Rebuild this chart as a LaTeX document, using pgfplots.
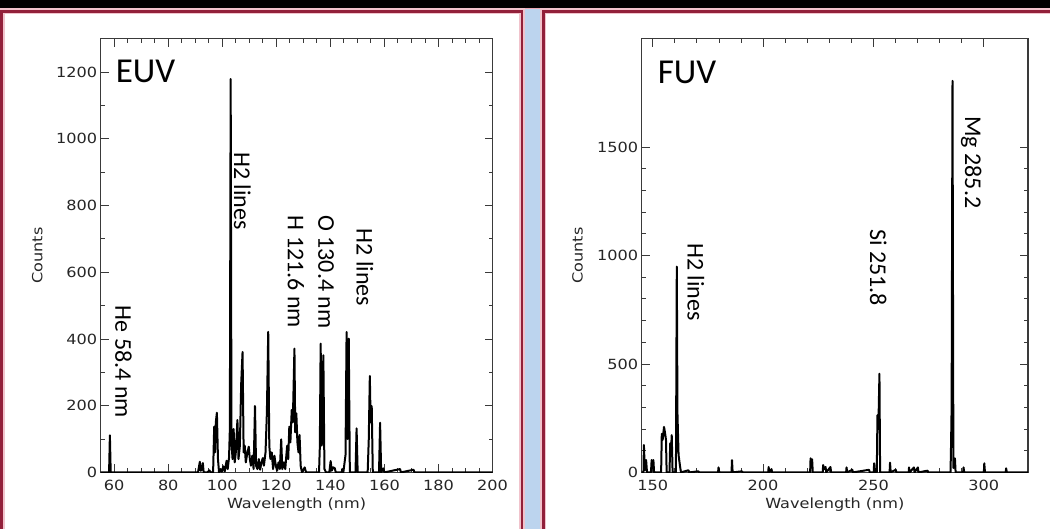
\documentclass[border=0pt]{standalone}
\usepackage{pgfplots}
\pgfplotsset{compat=1.18}
\usepackage{pgfplotstable}
\usepackage{fontspec}
\setmainfont{DejaVu Sans}
\newfontfamily\tickf[FakeStretch=1.15]{DejaVu Sans}
\newfontfamily\annf{Carlito}
\definecolor{panelred}{HTML}{92203A}
\definecolor{glow}{HTML}{EBA9B6}
\definecolor{stripblue}{HTML}{BCD4EE}
\definecolor{axgray}{HTML}{3A3A3A}

\pgfplotstableread{
x y
55 0
58.1 0
58.4 111
58.7 0
91.0 0
91.7 32
92.0 5
92.4 8
92.8 28
93.1 0
94.5 0
95.2 6
95.8 0
96.6 0
97.0 137
97.3 60
97.6 150
98.0 179
98.4 40
98.8 0
99.4 10
99.8 2
100.4 18
100.9 3
101.6 35
102.0 10
102.5 45
102.8 130
103.1 1179
103.4 90
103.8 40
104.2 130
104.6 30
105.0 60
105.6 157
106.0 40
106.5 80
107.0 267
107.5 361
107.9 60
108.3 80
108.7 30
109.3 60
109.8 77
110.2 40
110.6 20
111.1 50
111.6 10
112.1 199
112.5 20
113.0 10
113.5 40
114.0 8
114.5 30
115.0 43
115.4 20
116.0 60
116.5 178
117.0 421
117.4 80
117.8 40
118.3 60
118.8 10
119.3 50
119.8 20
120.3 5
120.8 30
121.3 10
121.8 99
122.2 10
122.8 30
123.3 10
124.0 80
124.4 40
124.8 137
125.2 90
125.7 187
126.1 150
126.7 371
127.0 120
127.4 177
127.8 90
128.2 60
128.6 112
129.0 20
129.5 0
130.5 15
131.0 0
135.8 0
136.1 77
136.4 386
136.8 80
137.4 351
137.8 10
138.4 0
139.6 0
140.1 34
140.5 5
141.0 15
141.6 13
142.0 0
144.2 0
144.4 10
144.8 0
145.6 52
146.0 421
146.4 100
146.8 401
147.2 0
149.3 0
149.7 132
150.1 0
153.8 0
154.2 97
154.6 289
154.9 150
155.3 199
155.7 0
158.0 0
158.4 149
158.8 0
159.6 12
160.0 0
165.8 10
166.1 0
170.8 8
171.1 0
200 0
}\euv

\pgfplotstableread{
x y
145 0
145.8 0
146.0 126
146.4 10
147.0 57
147.4 0
149.2 0
149.5 57
149.9 20
150.3 57
150.6 0
153.8 0
154.1 178
154.5 150
155.1 210
155.6 180
156.0 150
156.3 0
157.6 0
157.9 134
158.3 100
158.6 172
159.0 0
160.5 0
160.9 949
161.2 272
161.7 80
162.4 26
162.8 0
166.2 10
166.5 0
170.7 5
171.0 0
179.6 0
179.8 23
180.1 0
185.7 0
185.9 57
186.2 0
190.4 5
190.7 0
202.3 0
202.5 25
202.8 0
203.8 15
204.1 0
221.3 0
221.5 65
221.9 40
222.2 60
222.5 0
227.0 0
227.2 34
227.6 15
228.3 25
228.6 0
230.5 25
230.8 0
237.6 0
237.8 23
238.1 0
240.4 12
240.7 0
248.0 12
248.3 0
250.1 0
250.3 42
250.6 0
251.5 0
251.8 264
252.2 200
252.7 455
253.0 0
257.3 0
257.5 45
257.8 0
260.1 12
260.4 0
266.0 0
266.1 23
266.4 0
268.3 23
268.6 0
270.1 23
270.4 0
274.5 8
274.8 0
284.9 0
285.1 103
285.4 300
285.8 1806
286.2 20
286.9 65
287.2 0
290.6 0
290.8 23
291.1 0
300.0 0
300.2 42
300.5 0
309.9 0
310.1 19
310.4 0
320 0
}\fuv

\pgfplotsset{
  idlstyle/.style={
    scale only axis,
    axis line style={line width=1.1pt, color=axgray},
    tick style={line width=0.9pt, color=axgray},
    major tick length=8pt,
    minor tick length=4pt,
    tick align=inside,
    /pgf/number format/assume math mode=true,
    /pgf/number format/1000 sep={},
    tick label style={font=\tickf\fontsize{14}{14}\selectfont, text=black!85},
    xticklabel style={yshift=-4pt},
    label style={font=\tickf\fontsize{14}{14}\selectfont, text=black!85},
    ymin=0,
  },
}

\begin{document}
\begin{tikzpicture}[x=1pt,y=1pt]
\useasboundingbox (0,0) rectangle (1050,528);
\fill[glow] (0,0) rectangle (1050,520);
\fill[black] (0,519.5) rectangle (1050,528);
% left panel
\fill[white] (3,-5) rectangle (521,515);
\draw[glow!70!white, line width=6] (1.5,-5) -- (1.5,516.5) -- (522,516.5) -- (522,-5);
\draw[panelred, line width=2.8] (1.5,-5) -- (1.5,516.5) -- (522,516.5) -- (522,-5);
% blue strip
\fill[stripblue] (524.5,-5) rectangle (541,519);
% right panel
\fill[white] (545,-5) rectangle (1055,515);
\draw[glow!70!white, line width=6] (543.2,-5) -- (543.2,516.5) -- (1055,516.5);
\draw[panelred, line width=2.8] (543.2,-5) -- (543.2,516.5) -- (1055,516.5);

\begin{axis}[idlstyle,
  at={(100.7pt,55.6pt)}, anchor=south west,
  width=391.8pt, height=433.7pt,
  xmin=55, xmax=200, ymax=1300,
  xtick={60,80,...,200}, minor x tick num=3,
  ytick={0,200,...,1200}, minor y tick num=1,
  xlabel={Wavelength (nm)}, ylabel={Counts},
  xlabel style={at={(axis description cs:0.5,-0.075)}, anchor=center},
  ylabel style={at={(axis description cs:-0.162,0.5)}, anchor=center},
]
\addplot[black, line width=2pt, line join=round] table[x=x,y=y] {\euv};
\node[font=\annf\fontsize{35}{35}\selectfont, anchor=center] at (axis cs:71.6,1203) {EUV};
\node[font=\annf\fontsize{24}{24}\selectfont, rotate=-90, anchor=center] at (axis cs:63.4,331) {He 58.4 nm};
\node[font=\annf\fontsize{24}{24}\selectfont, rotate=-90, anchor=center] at (axis cs:107.4,843) {H2 lines};
\node[font=\annf\fontsize{24}{24}\selectfont, rotate=-90, anchor=center] at (axis cs:127.2,601) {H 121.6 nm};
\node[font=\annf\fontsize{24}{24}\selectfont, rotate=-90, anchor=center] at (axis cs:138.4,601) {O 130.4 nm};
\node[font=\annf\fontsize{24}{24}\selectfont, rotate=-90, anchor=center] at (axis cs:152.8,614) {H2 lines};
\end{axis}

\begin{axis}[idlstyle,
  at={(641.7pt,55.6pt)}, anchor=south west,
  width=386.3pt, height=433.7pt,
  xmin=145, xmax=320, ymax=2000,
  xtick={150,200,250,300}, minor x tick num=4,
  ytick={0,500,1000,1500}, minor y tick num=4,
  xlabel={Wavelength (nm)}, ylabel={Counts},
  xlabel style={at={(axis description cs:0.5,-0.075)}, anchor=center},
  ylabel style={at={(axis description cs:-0.166,0.5)}, anchor=center},
]
\addplot[black, line width=2pt, line join=round] table[x=x,y=y] {\fuv};
\node[font=\annf\fontsize{35}{35}\selectfont, anchor=center] at (axis cs:165.5,1844) {FUV};
\node[font=\annf\fontsize{24}{24}\selectfont, rotate=-90, anchor=center] at (axis cs:169.5,878) {H2 lines};
\node[font=\annf\fontsize{24}{24}\selectfont, rotate=-90, anchor=center] at (axis cs:252.2,944) {Si 251.8};
\node[font=\annf\fontsize{24}{24}\selectfont, rotate=-90, anchor=center] at (axis cs:294.3,1430) {Mg 285.2};
\end{axis}
\end{tikzpicture}
\end{document}
